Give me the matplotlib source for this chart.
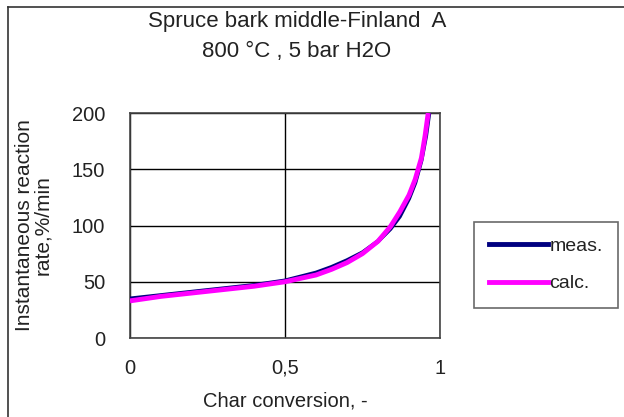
import matplotlib
matplotlib.use("Agg")
import matplotlib.pyplot as plt
from matplotlib.lines import Line2D

plt.rcParams['font.family'] = ['Liberation Sans', 'DejaVu Sans']

# values
conv_meas = [0.0, 0.1, 0.2, 0.3, 0.4, 0.5, 0.6, 0.65, 0.7, 0.75, 0.8, 0.84, 0.87, 0.9, 0.92, 0.94, 0.955, 0.965]
rate_meas = [35, 38, 41, 44, 47, 51, 58, 63, 69, 76, 86, 97, 108, 124, 138, 158, 180, 200]
conv_calc = [0.0, 0.1, 0.2, 0.3, 0.4, 0.5, 0.6, 0.65, 0.7, 0.75, 0.8, 0.84, 0.87, 0.9, 0.92, 0.94, 0.952, 0.962]
rate_calc = [33, 37, 40, 43, 46, 50, 56, 61, 67, 75, 86, 99, 112, 127, 141, 160, 180, 200]

x_ticks = [0, 0.5, 1]
x_ticklabels = ["0", "0,5", "1"]
y_ticks = [0, 50, 100, 150, 200]

W, H = 624, 417
fig = plt.figure(figsize=(W / 100, H / 100), dpi=100)

# axes placed in pixel terms
l, r, t, b = 130, 440, 113, 338
ax = fig.add_axes([l / W, (H - b) / H, (r - l) / W, (b - t) / H])

ax.plot(conv_meas, rate_meas, color="#000080", lw=3, solid_capstyle="butt", zorder=3)
ax.plot(conv_calc, rate_calc, color="#FF00FF", lw=3.5, solid_capstyle="butt", zorder=4)

ax.set_xlim(0, 1)
ax.set_ylim(0, 200)
ax.set_xticks(x_ticks)
ax.set_xticklabels(x_ticklabels)
ax.set_yticks(y_ticks)
ax.tick_params(length=0, labelsize=14.5, colors="#222222")
ax.tick_params(axis="y", pad=18)
ax.tick_params(axis="x", pad=15)
ax.grid(True, color="black", lw=1)
for s in ax.spines.values():
    s.set_color("#444444")
    s.set_linewidth(1.2)

ax.set_xlabel("Char conversion, -", fontsize=14.5, color="#222222", labelpad=10)
ax.set_ylabel("Instantaneous reaction\nrate,%/min", fontsize=15, color="#222222",
              linespacing=0.95, multialignment="center")
ax.yaxis.set_label_coords(-0.25, 0.5)

fig.text(297 / W, 1 - 22 / H, "Spruce bark middle-Finland  A", ha="center", va="center",
         fontsize=16, color="#222222")
fig.text(297 / W, 1 - 52 / H, "800 °C , 5 bar H2O", ha="center", va="center",
         fontsize=16, color="#222222")

# legend box
handles = [Line2D([], [], color="#000080", lw=3.5), Line2D([], [], color="#FF00FF", lw=3.5)]
leg = fig.legend(handles, ["meas.", "calc."], loc="center",
                 bbox_to_anchor=(546 / W, 1 - 265 / H), fontsize=14, frameon=True,
                 fancybox=False, edgecolor="#444444", handlelength=3.0, handletextpad=0.1,
                 labelspacing=1.0, borderpad=0.8, labelcolor="#222222")
leg.get_frame().set_linewidth(1.2)

# figure border (top and left visible)
fig.add_artist(Line2D([8 / W, 8 / W], [0, 1 - 7 / H], color="#333333", lw=1.2))
fig.add_artist(Line2D([8 / W, 1], [1 - 7 / H, 1 - 7 / H], color="#333333", lw=1.2))

fig.savefig("out.png", dpi=100)
